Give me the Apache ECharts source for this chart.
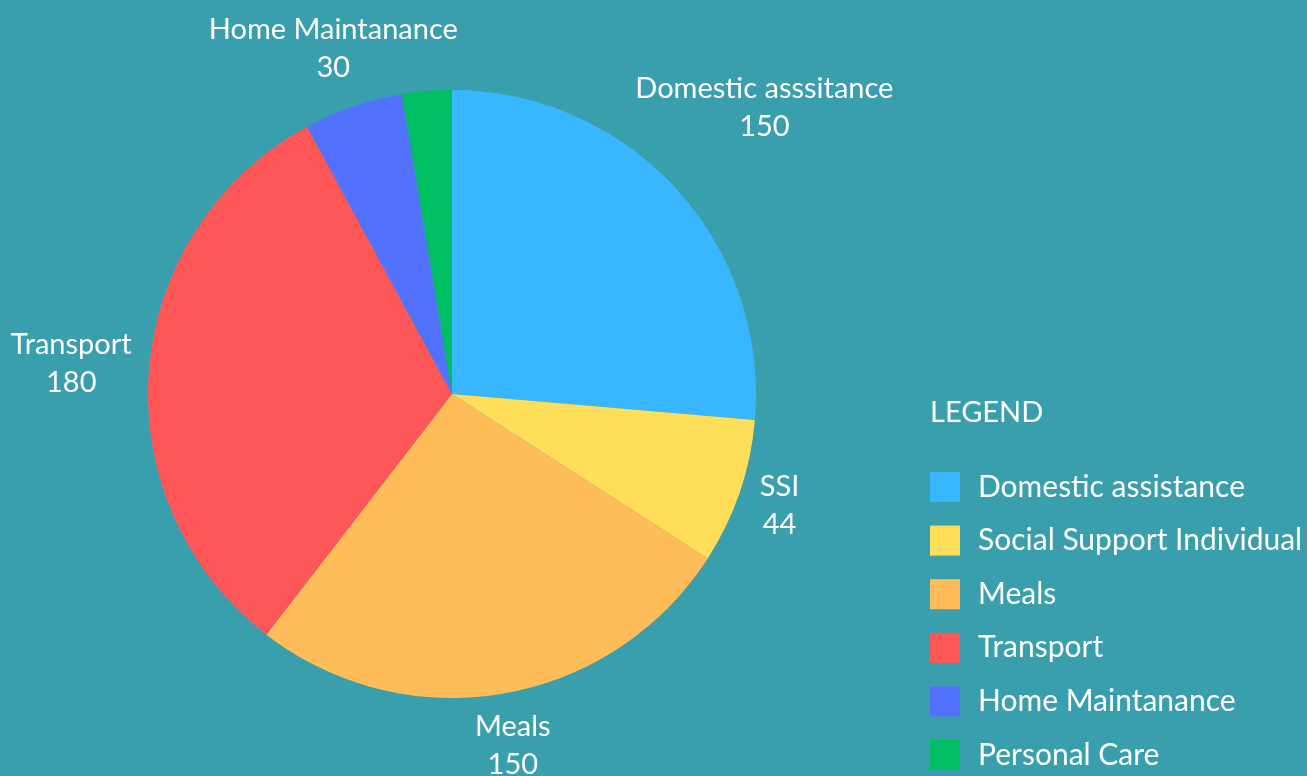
<!DOCTYPE html>
<html>
<head>
<meta charset="utf-8">
<style>
  html, body { margin: 0; padding: 0; background: #3a9fad; }
  #main { width: 1307px; height: 776px; }
</style>
<script src="https://cdn.jsdelivr.net/npm/echarts@6/dist/echarts.min.js"></script>
</head>
<body>
<div id="main"></div>
<script>
var categories = ['Domestic assistance', 'Social Support Individual', 'Meals', 'Transport', 'Home Maintanance', 'Personal Care'];
var labelNames = ['Domestic asssitance', 'SSI', 'Meals', 'Transport', 'Home Maintanance', ''];
var values = [150, 44, 150, 180, 30, 15];
var colors = ['#38b6ff', '#ffde59', '#ffbd59', '#ff5757', '#5271ff', '#00bf63'];

// pie geometry (px) and how far each label centre sits outside the rim
var cx = 452, cy = 394, radius = 304;
var labelDist = [120, 42, 53, 78, 61, 0];
var font = 'Lato';

var total = values.reduce(function (a, b) { return a + b; }, 0);
function midAngle(i) {
	var before = 0;
	for (var k = 0; k < i; k++) before += values[k];
	return (before + values[i] / 2) / total * Math.PI * 2;
}

var pieData = categories.map(function (name, i) {
	var item = {
		name: name,
		value: values[i],
		itemStyle: { color: colors[i] }
	};
	if (!labelNames[i]) item.label = { show: false };
	return item;
});

var myChart = echarts.init(document.getElementById('main'));
var option = {
	backgroundColor: '#3a9fad',
	animation: false,
	title: {
		text: 'LEGEND',
		left: 930,
		top: 398,
		padding: 0,
		textStyle: {
			color: '#ffffff',
			fontFamily: font,
			fontSize: 29,
			fontWeight: 'normal'
		}
	},
	legend: {
		orient: 'vertical',
		left: 930,
		top: 472,
		height: 304,
		padding: 0,
		itemWidth: 30,
		itemHeight: 30,
		itemGap: 23.6,
		icon: 'rect',
		data: categories,
		textStyle: {
			color: '#ffffff',
			fontFamily: font,
			fontSize: 30,
			lineHeight: 30,
			padding: [0, 0, 0, 13]
		}
	},
	series: [{
		type: 'pie',
		center: [cx, cy],
		radius: radius,
		startAngle: 90,
		avoidLabelOverlap: false,
		label: {
			show: true,
			position: 'outside',
			color: '#ffffff',
			fontFamily: font,
			fontSize: 29,
			lineHeight: 38,
			align: 'center',
			formatter: function (p) {
				return labelNames[p.dataIndex] + '\n' + p.value;
			}
		},
		labelLine: { show: false },
		labelLayout: function (p) {
			var i = p.dataIndex;
			var a = midAngle(i);
			var r = radius + labelDist[i];
			return {
				x: cx + r * Math.sin(a),
				y: cy - r * Math.cos(a),
				align: 'center',
				verticalAlign: 'middle'
			};
		},
		emphasis: { disabled: true },
		data: pieData
	}]
};
myChart.setOption(option);
</script>
</body>
</html>
